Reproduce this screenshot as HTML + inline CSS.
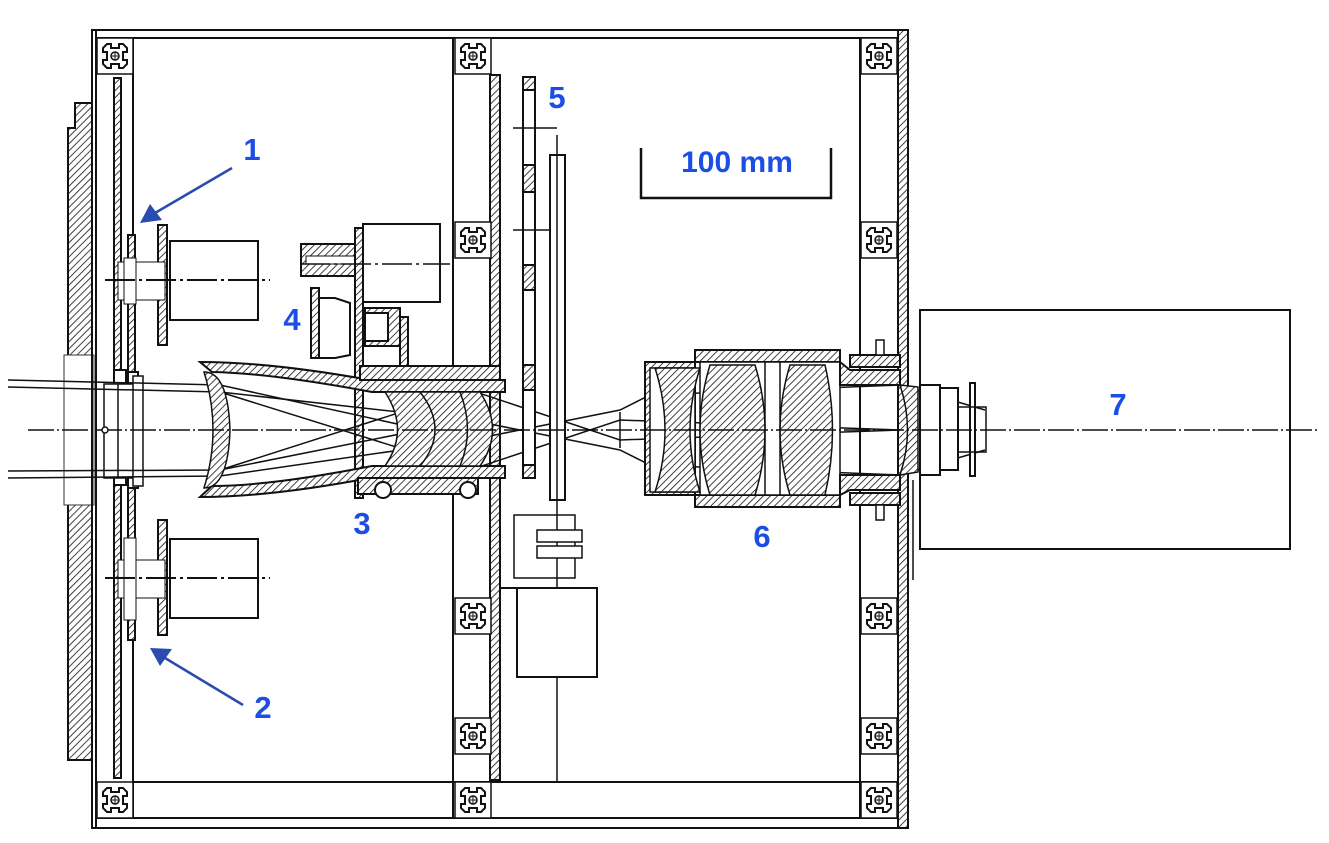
<!DOCTYPE html>
<html><head><meta charset="utf-8"><style>
html,body{margin:0;padding:0;background:#fff;}
svg{display:block;}
.l{font-family:"Liberation Sans",sans-serif;font-weight:bold;font-size:31px;fill:#1c4ee6;}
</style></head><body>
<svg width="1329" height="843" viewBox="0 0 1329 843" xmlns="http://www.w3.org/2000/svg">
<defs>
<pattern id="h" width="5" height="5" patternUnits="userSpaceOnUse" patternTransform="rotate(45)">
<rect width="5" height="5" fill="#fff"/><line x1="0" y1="0" x2="0" y2="5" stroke="#111" stroke-width="1.6"/></pattern>
<g id="prof">
<rect x="0" y="0" width="36" height="36" fill="#fff" stroke="#111" stroke-width="1.5"/>
<path d="M6 10 L10 6 L14 6 L14 10 L22 10 L22 6 L26 6 L30 10 L30 14 L26 14 L26 22 L30 22 L30 26 L26 30 L22 30 L22 26 L14 26 L14 30 L10 30 L6 26 L6 22 L10 22 L10 14 L6 14 Z" fill="none" stroke="#111" stroke-width="2"/>
<circle cx="18" cy="18" r="4" fill="none" stroke="#111" stroke-width="1.5"/>
<path d="M14 18h8M18 14v8" stroke="#111" stroke-width="1"/>
</g>
</defs>
<g fill="none" stroke="#111" stroke-width="2">
<path d="M75 103 H92 V760 H68 V128 H75 Z" fill="url(#h)"/>
<rect x="64" y="355" width="30" height="150" fill="#fff" stroke="#333" stroke-width="1"/>
<rect x="92" y="30" width="816" height="798"/>
<line x1="96" y1="30" x2="96" y2="828"/>
<line x1="96" y1="38" x2="898" y2="38"/>
<line x1="96" y1="818" x2="898" y2="818"/>
<line x1="133" y1="38" x2="133" y2="818"/>
<line x1="133" y1="782" x2="898" y2="782"/>
<line x1="453" y1="38" x2="453" y2="818"/>
<line x1="490" y1="38" x2="490" y2="818"/>
<line x1="860" y1="38" x2="860" y2="818"/>
<rect x="898" y="30" width="10" height="798" fill="url(#h)"/>
<rect x="490" y="75" width="10" height="705" fill="url(#h)"/>
<rect x="114" y="78" width="7" height="700" fill="url(#h)"/>
<rect x="114" y="370" width="12" height="115" fill="#fff"/>
<rect x="128" y="235" width="7" height="405" fill="url(#h)"/>
<rect x="128" y="372" width="10" height="116" fill="#fff"/>
</g>
<g>
<use href="#prof" x="97" y="38"/><use href="#prof" x="455" y="38"/><use href="#prof" x="861" y="38"/>
<use href="#prof" x="455" y="222"/><use href="#prof" x="861" y="222"/>
<use href="#prof" x="455" y="598"/><use href="#prof" x="861" y="598"/>
<use href="#prof" x="455" y="718"/><use href="#prof" x="861" y="718"/>
<use href="#prof" x="97" y="782"/><use href="#prof" x="455" y="782"/><use href="#prof" x="861" y="782"/>
</g>
<g fill="none" stroke="#111" stroke-width="2">
<rect x="158" y="225" width="9" height="120" fill="url(#h)"/>
<rect x="170" y="241" width="88" height="79" fill="#fff"/>
<rect x="118" y="262" width="47" height="38" fill="#fff" stroke-width="1"/>
<rect x="124" y="258" width="12" height="46" fill="#fff" stroke-width="1"/>
<line x1="105" y1="280" x2="270" y2="280" stroke-dasharray="30 4 3 4"/>
<rect x="158" y="520" width="9" height="115" fill="url(#h)"/>
<rect x="170" y="539" width="88" height="79" fill="#fff"/>
<rect x="118" y="560" width="47" height="38" fill="#fff" stroke-width="1"/>
<rect x="124" y="538" width="12" height="82" fill="#fff" stroke-width="1"/>
<line x1="105" y1="578" x2="270" y2="578" stroke-dasharray="30 4 3 4"/>
<rect x="104" y="384" width="30" height="94" fill="#fff" stroke-width="1.5"/>
<line x1="118" y1="384" x2="118" y2="478" stroke-width="1.5"/>
<rect x="133" y="376" width="10" height="110" fill="#fff" stroke-width="1.5"/>
<rect x="301" y="244" width="55" height="32" fill="url(#h)"/>
<rect x="306" y="256" width="50" height="8" fill="#fff" stroke-width="1"/>
<rect x="355" y="228" width="8" height="270" fill="url(#h)"/>
<rect x="363" y="224" width="77" height="78" fill="#fff"/>
<line x1="300" y1="264" x2="450" y2="264" stroke-dasharray="30 4 3 4" stroke-width="1.5"/>
<rect x="311" y="288" width="8" height="70" fill="url(#h)"/>
<path d="M319 298 H335 L350 303 V355 L335 358 H319 Z" fill="#fff"/>
<rect x="365" y="308" width="35" height="38" fill="url(#h)"/>
<rect x="365" y="313" width="23" height="28" fill="#fff"/>
<rect x="400" y="317" width="8" height="63" fill="url(#h)"/>
<g stroke-width="1.5">
<path d="M8 380 L220 385 L470 440 L520 430 L620 410 L650 395 L900 385 L985 410"/>
<path d="M8 387 L220 392 L470 420"/>
<path d="M8 471 L220 470 L470 420 L520 430 L620 450 L650 465 L900 475 L985 450"/>
<path d="M8 478 L220 476 L470 440"/>
<path d="M220 392 L470 470 L620 420 L900 430"/>
<path d="M220 470 L470 390 L620 440 L900 430"/>
<line x1="620" y1="412" x2="620" y2="448"/>
</g>
<path d="M200 362 Q270 362 370 380 H505 V392 H372 Q270 373 212 372 Z" fill="url(#h)"/>
<path d="M200 497 Q270 497 370 478 H505 V466 H372 Q270 486 212 486 Z" fill="url(#h)"/>
<path d="M204 372 Q222 430 204 488 Q228 488 230 430 Q228 372 204 372 Z" fill="url(#h)" stroke-width="1.5"/>
<path d="M385 392 Q410 430 385 466 H480 Q505 430 480 392 Z" fill="url(#h)" stroke-width="1.5"/>
<path d="M420 392 Q450 430 420 466 M460 392 Q475 430 460 466" stroke-width="1.5"/>
<rect x="358" y="478" width="120" height="16" fill="url(#h)"/>
<circle cx="383" cy="490" r="8" fill="#fff"/><circle cx="468" cy="490" r="8" fill="#fff"/>
<rect x="360" y="366" width="140" height="14" fill="url(#h)"/>
<rect x="523" y="77" width="12" height="401" fill="#fff"/>
<rect x="523" y="77" width="12" height="13" fill="url(#h)"/>
<rect x="523" y="165" width="12" height="27" fill="url(#h)"/>
<rect x="523" y="265" width="12" height="25" fill="url(#h)"/>
<rect x="523" y="365" width="12" height="25" fill="url(#h)"/>
<rect x="523" y="465" width="12" height="13" fill="url(#h)"/>
<line x1="513" y1="128" x2="557" y2="128" stroke-width="1.5"/>
<line x1="513" y1="230" x2="553" y2="230" stroke-width="1.5"/>
<rect x="550" y="155" width="15" height="345" fill="#fff"/>
<line x1="557" y1="135" x2="557" y2="782" stroke-width="1.5"/>
<rect x="514" y="515" width="61" height="63" stroke-width="1.5"/>
<rect x="537" y="530" width="45" height="12" fill="#fff" stroke-width="1.5"/>
<rect x="537" y="546" width="45" height="12" fill="#fff" stroke-width="1.5"/>
<rect x="517" y="588" width="80" height="89" fill="#fff"/>
<line x1="500" y1="588" x2="597" y2="588"/>
<path d="M645 362 H695 V350 H840 V362 H695 V495 H840 V507 H695 V495 H645 Z" fill="url(#h)"/>
<rect x="650" y="368" width="45" height="124" fill="#fff" stroke-width="1.5"/>
<rect x="700" y="362" width="140" height="133" fill="#fff" stroke-width="1.5"/>
<path d="M655 368 Q675 430 655 492 H700 Q680 430 700 368 Z" fill="url(#h)" stroke-width="1.5"/>
<path d="M710 365 Q690 430 710 495 H755 Q775 430 755 365 Z" fill="url(#h)" stroke-width="1.5"/>
<path d="M790 365 Q770 430 790 495 H825 Q840 430 825 365 Z" fill="url(#h)" stroke-width="1.5"/>
<line x1="765" y1="362" x2="765" y2="495" stroke-width="1.5"/><line x1="780" y1="362" x2="780" y2="495" stroke-width="1.5"/>
<path d="M840 362 L850 370 H900 V385 H840 Z" fill="url(#h)"/>
<path d="M840 495 L850 490 H900 V475 H840 Z" fill="url(#h)"/>
<rect x="850" y="355" width="50" height="12" fill="url(#h)"/>
<rect x="850" y="493" width="50" height="12" fill="url(#h)"/>
<rect x="876" y="340" width="8" height="15" fill="#fff" stroke-width="1.5"/>
<rect x="876" y="505" width="8" height="15" fill="#fff" stroke-width="1.5"/>
<path d="M900 385 L918 387 V472 L900 475 Q915 430 900 385 Z" fill="url(#h)" stroke-width="1.5"/>
<line x1="913" y1="480" x2="913" y2="580" stroke-width="1.5"/>
<rect x="920" y="310" width="370" height="239" fill="none"/>
<rect x="920" y="385" width="20" height="90" fill="#fff"/>
<rect x="940" y="388" width="18" height="82" fill="#fff"/>
<rect x="970" y="383" width="5" height="93" fill="#fff"/>
<rect x="958" y="407" width="28" height="45" fill="none" stroke-width="1.5"/>
<line x1="28" y1="430" x2="1318" y2="430" stroke-width="1.5" stroke-dasharray="26 3 2 3"/>
<circle cx="105" cy="430" r="3" fill="#fff" stroke-width="1.5"/>
<path d="M641 148 V198 H831 V148" stroke-width="2.5"/>
<g stroke="#2a4bb0" stroke-width="2.5">
<line x1="232" y1="168" x2="155" y2="213"/>
<line x1="243" y1="705" x2="165" y2="658"/>
</g>
</g>
<polygon points="140,223 150,204 162,220" fill="#2a4bb0"/>
<polygon points="150,648 172,649 160,666" fill="#2a4bb0"/>
<text x="737" y="172" text-anchor="middle" class="l" style="font-size:30px">100 mm</text>
<text x="252" y="160" text-anchor="middle" class="l">1</text>
<text x="263" y="718" text-anchor="middle" class="l">2</text>
<text x="362" y="534" text-anchor="middle" class="l">3</text>
<text x="292" y="330" text-anchor="middle" class="l">4</text>
<text x="557" y="108" text-anchor="middle" class="l">5</text>
<text x="762" y="547" text-anchor="middle" class="l">6</text>
<text x="1118" y="415" text-anchor="middle" class="l">7</text>
</svg>
</body></html>
